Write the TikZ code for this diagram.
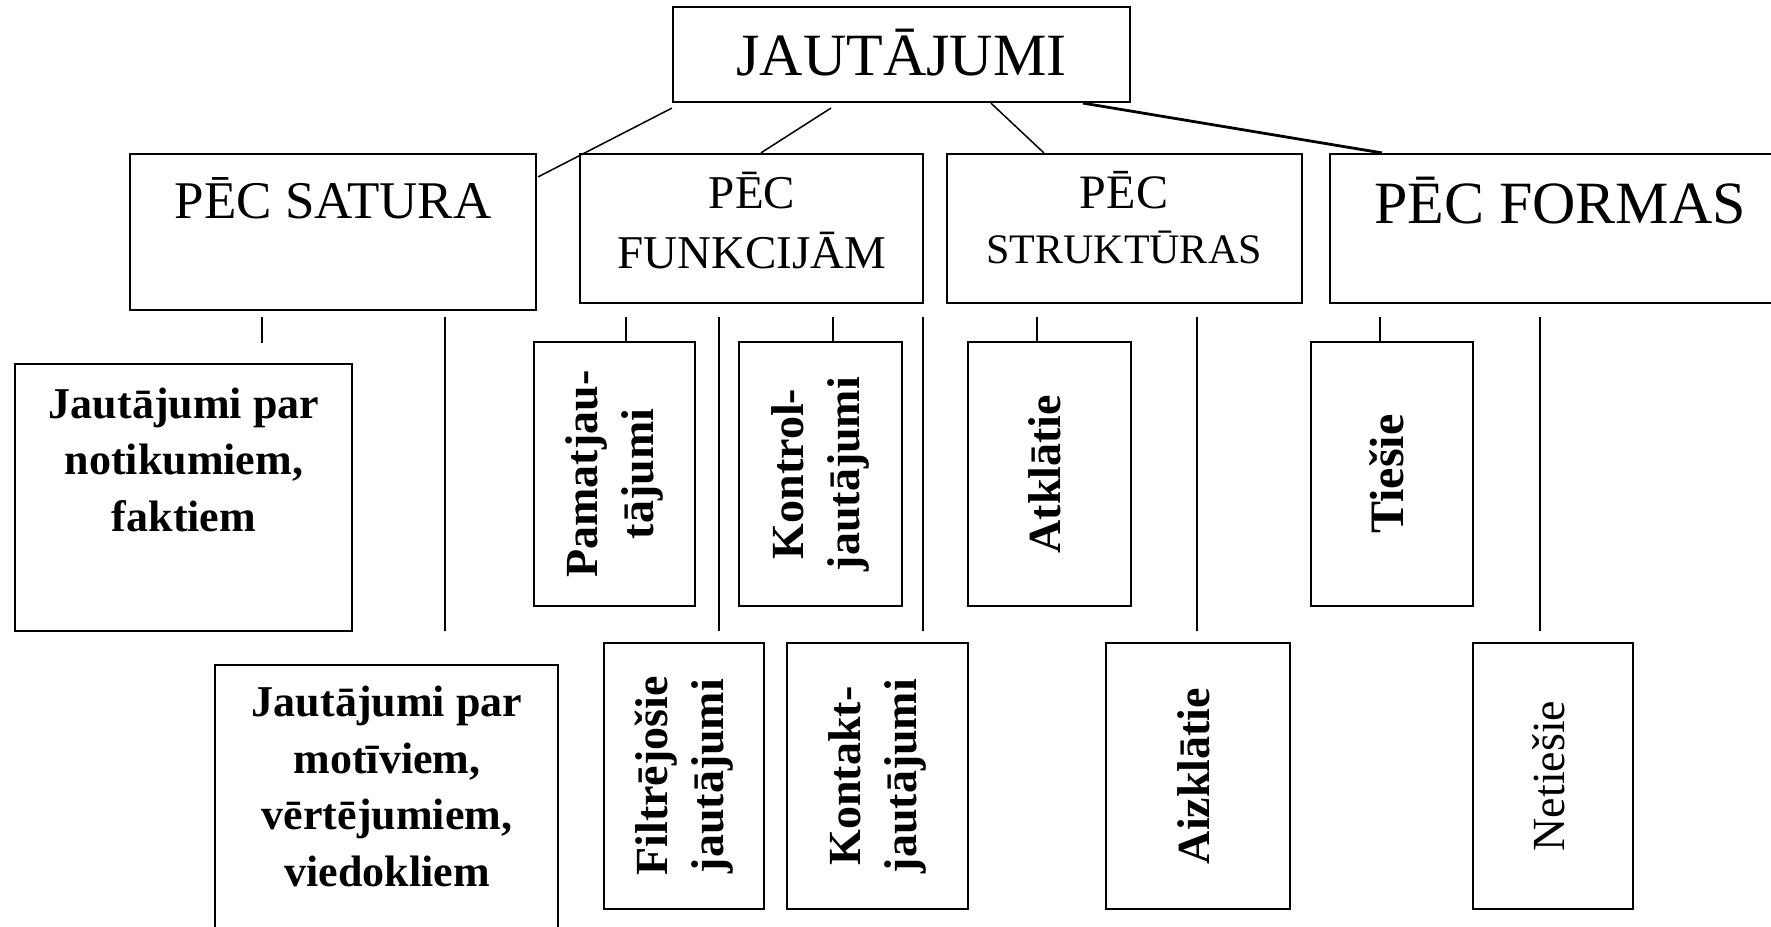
\documentclass[tikz,border=0pt]{standalone}
\usepackage{fontspec}
\setmainfont{Liberation Serif}
\usetikzlibrary{calc}
% two or more lines of bold text, turned to read upwards
\newcommand\upwardtext[1]{\rotatebox{90}{\begin{tabular}{@{}c@{}}#1\end{tabular}}}
\begin{document}
\begin{tikzpicture}[x=0.5pt,y=-0.5pt,
  box/.style={draw,line width=1.1pt,inner sep=0pt,rectangle},
  lbl/.style={inner sep=0pt,align=center},
  link/.style={line width=0.75pt},
  heavylink/.style={line width=1.4pt},
  rotbox/.style={box,font=\fontsize{23}{28}\selectfont\bfseries},
  leafbox/.style={box,minimum width=81pt,minimum height=132pt},
  lowbox/.style={box,minimum height=133pt},
  leaftext/.style={lbl,anchor=base,font=\fontsize{22}{28.25}\selectfont\bfseries},
]
\useasboundingbox (0,0) rectangle (1771,926);
\clip (0,0) rectangle (1771,926);

% root (a multi-line label is placed by the baseline of its last line)
\node[box,minimum width=228.5pt,minimum height=47.5pt] (jaut) at (901.5,54.5) {};
\node[lbl,anchor=base,font=\fontsize{30}{36}\selectfont] (jautT) at (901.5,75) {JAUTĀJUMI};

% first level
\node[box,minimum width=203pt,minimum height=78pt] (satura) at (333,232) {};
\node[lbl,anchor=base,font=\fontsize{26.5}{32}\selectfont] (saturaT) at (333,218) {PĒC SATURA};

\node[box,minimum width=171.5pt,minimum height=74.5pt] (funk) at (751.5,228.5) {};
\node[lbl,anchor=base,font=\fontsize{23.5}{30}\selectfont] (funkT) at (752,268) {PĒC\\FUNKCIJĀM};

\node[box,minimum width=177.5pt,minimum height=74.5pt] (struk) at (1124.5,228.5) {};
\node[lbl,anchor=base,font=\fontsize{24}{27.5}\selectfont] (strukT) at (1124,263)
  {PĒC\\{\fontsize{21}{27.5}\selectfont STRUKTŪRAS}};

\node[box,minimum width=230pt,minimum height=74.5pt] (formas) at (1560,228.5) {};
\node[lbl,anchor=base,font=\fontsize{30}{36}\selectfont] (formasT) at (1560,223) {PĒC FORMAS};

% links from the root
\draw[link] ($(jaut.south west)+(0,5)$) -- ($(satura.north east)+(1,24)$);
\draw[link] ($(jaut.south west)+(159,5)$) -- ($(funk.north west)+(182,0)$);
\draw[link] ($(jaut.south west)+(319,0)$) -- ($(struk.north west)+(98,0)$);
\draw[heavylink] ($(jaut.south west)+(411,0)$) -- ($(formas.north west)+(53,0)$);

% second level: by content
\node[box,minimum width=168.5pt,minimum height=133.5pt] (notik) at (183.5,497.5) {};
\node[leaftext] (notikT) at (184,531) {Jautājumi par\\notikumiem,\\faktiem};
\node[box,minimum width=171.5pt,minimum height=147.5pt] (motiv) at (386.5,812.5) {};
\node[leaftext] (motivT) at (387,886) {Jautājumi par\\motīviem,\\vērtējumiem,\\viedokliem};

% second level: by function
\node[rotbox,leafbox,minimum width=80.5pt] (pamat) at (614.5,474) {\upwardtext{Pamatjau-\\tājumi}};
\node[rotbox,leafbox,minimum width=81.5pt] (kontrol) at (820.5,474) {\upwardtext{Kontrol-\\jautājumi}};
\node[rotbox,lowbox,minimum width=80pt] (filtr) at (684,776) {\upwardtext{Filtrējošie\\jautājumi}};
\node[rotbox,lowbox,minimum width=90.5pt] (kontakt) at (877.5,776) {\upwardtext{Kontakt-\\jautājumi}};

% second level: by structure
\node[rotbox,leafbox,minimum width=81.5pt] (atkl) at (1049.5,474) {\upwardtext{Atklātie}};
\node[rotbox,lowbox,minimum width=92pt] (aizkl) at (1198,776) {\upwardtext{Aizklātie}};

% second level: by form
\node[rotbox,leafbox,font=\fontsize{24}{28}\selectfont\bfseries] (ties) at (1392,474) {\upwardtext{Tiešie}};
\node[rotbox,lowbox,minimum width=80pt,font=\fontsize{23}{28}\selectfont] (neties) at (1553,776) {\upwardtext{Netiešie}};

% branch lines below the first level
\coordinate (b1) at (262,317);  \coordinate (b1e) at (262,343);
\coordinate (b2) at (445,317);  \coordinate (b2e) at (445,631);
\coordinate (b3) at (626,317);
\coordinate (b4) at (719,317);  \coordinate (b4e) at (719,631);
\coordinate (b5) at (833,317);
\coordinate (b6) at (923,317);  \coordinate (b6e) at (923,631);
\coordinate (b7) at (1037,317);
\coordinate (b8) at (1197,317); \coordinate (b8e) at (1197,631);
\coordinate (b9) at (1380,317);
\coordinate (b10) at (1540,317); \coordinate (b10e) at (1540,631);

\draw[link] (b1) -- (b1e);
\draw[link] (b2) -- (b2e);
\draw[link] (b3) -- (b3 |- pamat.north);
\draw[link] (b4) -- (b4e);
\draw[link] (b5) -- (b5 |- kontrol.north);
\draw[link] (b6) -- (b6e);
\draw[link] (b7) -- (b7 |- atkl.north);
\draw[link] (b8) -- (b8e);
\draw[link] (b9) -- (b9 |- ties.north);
\draw[link] (b10) -- (b10e);
\end{tikzpicture}
\end{document}
